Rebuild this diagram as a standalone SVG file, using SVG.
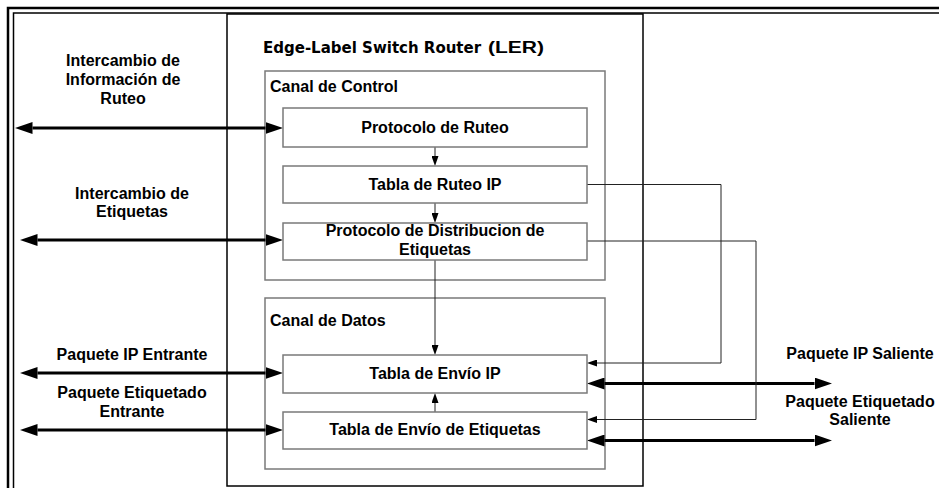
<svg xmlns="http://www.w3.org/2000/svg" width="939" height="488" viewBox="0 0 939 488">
<defs>
<style>
.lbl{font-family:"Liberation Sans",Arial,sans-serif;font-weight:bold;font-size:16px;fill:#000}
.mid{text-anchor:middle}
.box{fill:#fff;stroke:#7a7a7a;stroke-width:1.5}
.grp{fill:none;stroke:#7a7a7a;stroke-width:1.5}
.thick{fill:none;stroke:#000;stroke-width:3}
.thin{fill:none;stroke:#222;stroke-width:1}
</style>
<marker id="big" markerUnits="userSpaceOnUse" markerWidth="18" markerHeight="12" refX="0" refY="6" orient="auto-start-reverse" viewBox="0 0 18 12">
<path d="M0,0 L17.5,6 L0,12 z" fill="#000"/>
</marker>
<marker id="small" markerUnits="userSpaceOnUse" markerWidth="10" markerHeight="7" refX="0" refY="3.5" orient="auto" viewBox="0 0 10 7">
<path d="M0,0 L10,3.5 L0,7 z" fill="#000"/>
</marker>
</defs>
<rect width="939" height="488" fill="#fff"/>
<g id="frame">
<path d="M8,495 V8 H945" fill="none" stroke="#000" stroke-width="2.5"/>
<path d="M13.5,495 V13 H945" fill="none" stroke="#000" stroke-width="1.5"/>
</g>
<g id="ler">
<rect x="227" y="14" width="416" height="472" fill="none" stroke="#000" stroke-width="1.5"/>
<text class="lbl" y="53"><tspan x="263" font-family="'DejaVu Sans',Verdana,sans-serif" font-size="15">Edge-Label Switch Router</tspan><tspan x="488" textLength="56" lengthAdjust="spacingAndGlyphs">(LER)</tspan></text>
</g>
<g id="canal-control">
<rect class="grp" x="265" y="71" width="340" height="209"/>
<text class="lbl" x="270" y="92">Canal de Control</text>
</g>
<g id="canal-datos">
<rect class="grp" x="265" y="298" width="340" height="171"/>
<text class="lbl" x="270" y="326">Canal de Datos</text>
</g>
<g id="labels-left">
<text class="lbl mid" x="123" y="66">Intercambio de</text>
<text class="lbl mid" x="123" y="85">Información de</text>
<text class="lbl mid" x="123" y="104">Ruteo</text>
<text class="lbl mid" x="132" y="199">Intercambio de</text>
<text class="lbl mid" x="132" y="217">Etiquetas</text>
<text class="lbl mid" x="132" y="360">Paquete IP Entrante</text>
<text class="lbl mid" x="132" y="398">Paquete Etiquetado</text>
<text class="lbl mid" x="132" y="417">Entrante</text>
</g>
<g id="labels-right">
<text class="lbl mid" x="860" y="359">Paquete IP Saliente</text>
<text class="lbl mid" x="860" y="407">Paquete Etiquetado</text>
<text class="lbl mid" x="860" y="425">Saliente</text>
</g>
<g id="connectors">
<line class="thick" x1="32.5" y1="128" x2="265.5" y2="128" marker-start="url(#big)" marker-end="url(#big)"/>
<line class="thick" x1="37.5" y1="240" x2="265.5" y2="240" marker-start="url(#big)" marker-end="url(#big)"/>
<line class="thick" x1="37.5" y1="373" x2="265.5" y2="373" marker-start="url(#big)" marker-end="url(#big)"/>
<line class="thick" x1="37.5" y1="430" x2="265.5" y2="430" marker-start="url(#big)" marker-end="url(#big)"/>
<line class="thick" x1="604.5" y1="383.5" x2="814.5" y2="383.5" marker-start="url(#big)" marker-end="url(#big)"/>
<line class="thick" x1="604.5" y1="440.5" x2="814.5" y2="440.5" marker-start="url(#big)" marker-end="url(#big)"/>
<line class="thin" x1="435" y1="147" x2="435" y2="156" marker-end="url(#small)"/>
<line class="thin" x1="435" y1="203" x2="435" y2="213" marker-end="url(#small)"/>
<line class="thin" x1="435" y1="260" x2="435" y2="345" marker-end="url(#small)"/>
<line class="thin" x1="435" y1="412" x2="435" y2="403" marker-end="url(#small)"/>
<path class="thin" d="M587,184.5 H721 V363 H597" marker-end="url(#small)"/>
<path class="thin" d="M587,241 H756 V419.5 H597" marker-end="url(#small)"/>
</g>
<g id="protocolo-ruteo">
<rect class="box" x="283" y="108" width="304" height="39"/>
<text class="lbl mid" x="435" y="133">Protocolo de Ruteo</text>
</g>
<g id="tabla-ruteo-ip">
<rect class="box" x="283" y="166" width="304" height="37"/>
<text class="lbl mid" x="435" y="190">Tabla de Ruteo IP</text>
</g>
<g id="protocolo-distribucion">
<rect class="box" x="283" y="223" width="304" height="37"/>
<text class="lbl mid" x="435" y="236">Protocolo de Distribucion de</text>
<text class="lbl mid" x="435" y="255">Etiquetas</text>
</g>
<g id="tabla-envio-ip">
<rect class="box" x="283" y="355" width="304" height="38"/>
<text class="lbl mid" x="435" y="379">Tabla de Envío IP</text>
</g>
<g id="tabla-envio-etiquetas">
<rect class="box" x="283" y="412" width="304" height="37"/>
<text class="lbl mid" x="435" y="435">Tabla de Envío de Etiquetas</text>
</g>
</svg>
